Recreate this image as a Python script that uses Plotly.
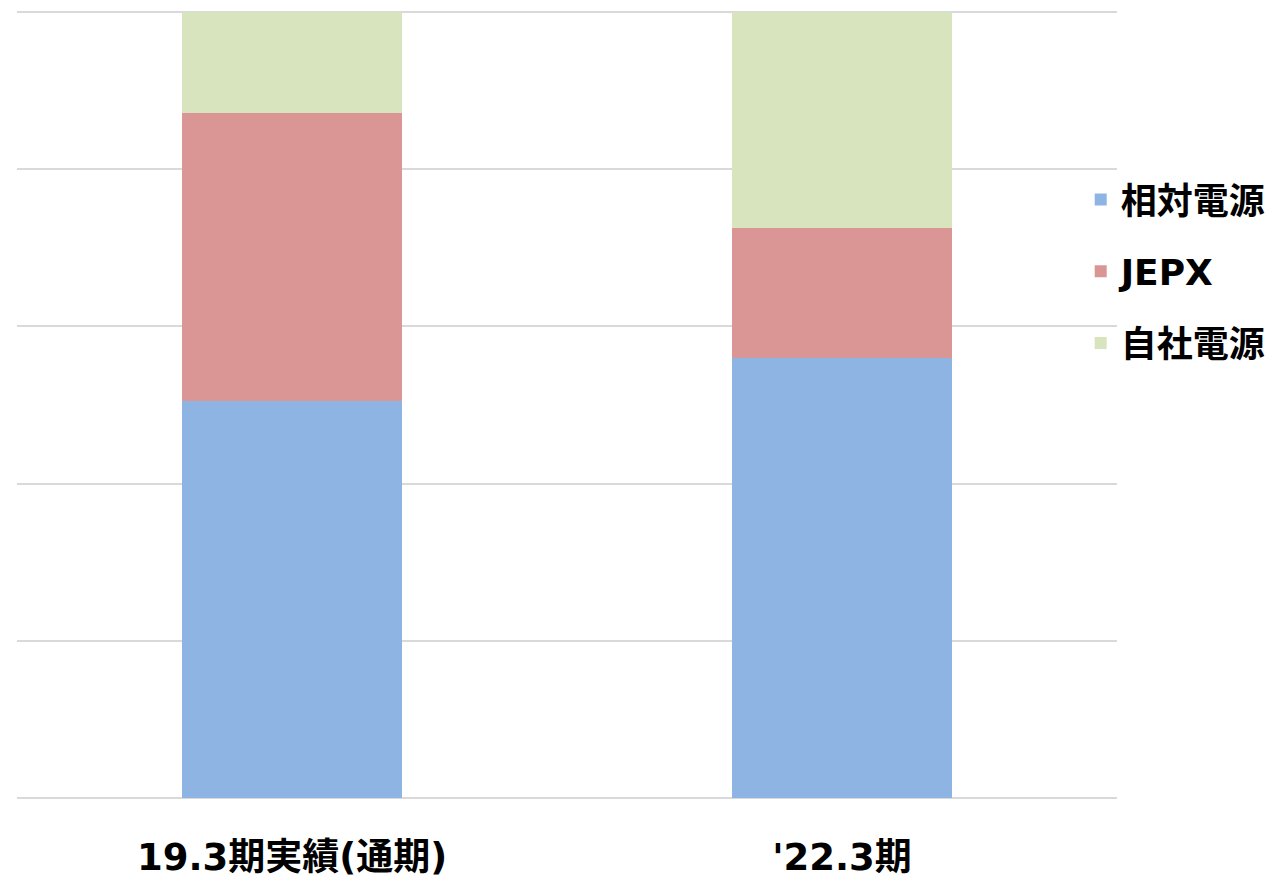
import plotly.graph_objects as go

categories = ["19.3期実績(通期)", "'22.3期"]
series_names = ["相対電源", "JEPX", "自社電源"]
sotai = [50.5, 56.0]
jepx = [36.6, 16.5]
jisha = [12.9, 27.5]
colors = ["#8EB4E3", "#D99694", "#D7E4BD"]

values = [sotai, jepx, jisha]

fig = go.Figure()
for i, (name, vals, col) in enumerate(zip(series_names, values, colors)):
    fig.add_trace(go.Bar(
        x=categories, y=vals, name=name,
        marker=dict(color=col, line=dict(width=0)),
        legendgroup=f"g{i}",
        width=0.4,
    ))

font_family = "DejaVu Sans, Noto Sans CJK JP, sans-serif"

fig.update_layout(
    barmode="stack",
    width=1276, height=878,
    margin=dict(l=17, r=159, t=10, b=80, autoexpand=False),
    plot_bgcolor="white", paper_bgcolor="white",
    xaxis=dict(
        showgrid=False, showline=False, ticks="",
        ticklabelstandoff=34,
        tickfont=dict(family=font_family, size=37, color="#000000", weight="bold"),
    ),
    yaxis=dict(
        range=[0, 100.25], tickvals=[0, 20, 40, 60, 80, 100], showticklabels=False,
        showgrid=True, gridcolor="#D9D9D9", gridwidth=2,
        zeroline=True, zerolinecolor="#D9D9D9", zerolinewidth=2,
    ),
    legend=dict(
        x=0.967, y=0.668, xanchor="left", yanchor="middle",
        font=dict(family=font_family, size=36, color="#000000", weight="bold"),
        traceorder="grouped", tracegroupgap=22,
        bgcolor="rgba(0,0,0,0)",
    ),
    showlegend=True,
)

fig.write_html("out.html")
